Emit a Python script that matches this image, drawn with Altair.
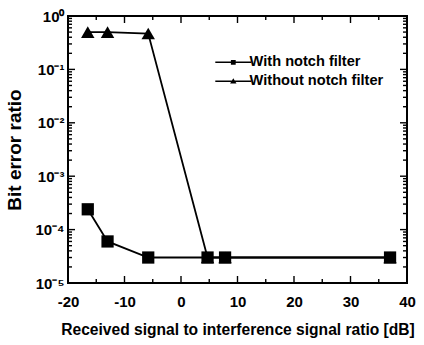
import altair as alt
import pandas as pd

# Measured bit error ratio versus signal-to-interference ratio
sir_db = [-16.5, -13.0, -5.8, 4.7, 7.8, 37.0]
ber_with_notch = [2.4e-4, 6.0e-5, 3.0e-5, 3.0e-5, 3.0e-5, 3.0e-5]
ber_without_notch = [0.5, 0.5, 0.47, 3.0e-5, 3.0e-5, 3.0e-5]
series_names = ["With notch filter", "Without notch filter"]

# Axis tick values
x_major = [-20, -10, 0, 10, 20, 30, 40]
x_minor = [-15, -5, 5, 15, 25, 35]
y_major = [1e-5, 1e-4, 1e-3, 1e-2, 1e-1, 1e0]
y_major_labels = ["10⁻⁵", "10⁻⁴", "10⁻³", "10⁻²", "10⁻¹", "10⁰"]
y_minor = [m * 10.0 ** e for e in range(-5, 0) for m in range(2, 10)]

W, H = 339, 267
FONT = "Liberation Sans"

rows = []
for name, ys in zip(series_names, [ber_with_notch, ber_without_notch]):
    for x, y in zip(sir_db, ys):
        rows.append({"sir": x, "ber": y, "series": name})
df = pd.DataFrame(rows)

x_scale = alt.Scale(domain=[-20, 40], nice=False, zero=False)
y_scale = alt.Scale(type="log", domain=[1e-5, 1], nice=False)

label_expr = "[" + ",".join(f"'{s}'" for s in y_major_labels) + "][round(log(datum.value)/LN10)+5]"

x_enc = alt.X(
    "sir:Q", scale=x_scale,
    axis=alt.Axis(values=x_major, ticks=False, domain=False, grid=False,
                  labelFont=FONT, labelFontSize=15, labelFontWeight="bold",
                  labelColor="black", labelPadding=11, labelFlush=False,
                  labelExpr="replace(datum.label, '−', '-')",
                  title="Received signal to interference signal ratio [dB]",
                  titleFont=FONT, titleFontSize=15.6, titleFontWeight="bold",
                  titleColor="black", titlePadding=13),
)
y_enc = alt.Y(
    "ber:Q", scale=y_scale,
    axis=alt.Axis(values=y_major, ticks=False, domain=False, grid=False,
                  labelFont=FONT, labelFontSize=15, labelFontWeight="bold",
                  labelColor="black", labelPadding=4, labelExpr=label_expr,
                  title="Bit error ratio",
                  titleFont=FONT, titleFontSize=19, titleFontWeight="bold",
                  titleColor="black", titlePadding=10),
)

base = alt.Chart(df)

lines = base.mark_line(color="black", strokeWidth=1.8).encode(
    x=x_enc, y=y_enc, detail="series:N"
)

points = base.mark_point(filled=True, color="black", opacity=1).encode(
    x="sir:Q", y="ber:Q",
    shape=alt.Shape("series:N", legend=None,
                    scale=alt.Scale(domain=series_names, range=["square", "triangle-up"])),
    size=alt.Size("series:N", legend=None,
                  scale=alt.Scale(domain=series_names, range=[150, 180])),
)

# Legend entries drawn as a short bar with a small marker in its middle
legend_paths = [
    "M-4.5,-0.19H4.5V0.19H-4.5ZM-0.6,-0.6H0.6V0.6H-0.6Z",
    "M-4.5,-0.19H4.5V0.19H-4.5ZM0,-0.75L0.8,0.55L-0.8,0.55Z",
]
legend_layer = base.mark_point(filled=True, color="black", opacity=0).encode(
    x="sir:Q", y="ber:Q",
    shape=alt.Shape(
        "series:N",
        scale=alt.Scale(domain=series_names, range=legend_paths),
        legend=alt.Legend(
            title=None, orient="none", legendX=158, legendY=39, padding=0,
            symbolSize=64, symbolOpacity=1, symbolFillColor="black",
            labelFont=FONT, labelFontSize=14.6, labelFontWeight="bold",
            labelColor="black", labelOffset=9, rowPadding=4,
        ),
    ),
)

# Inward-pointing ticks on all four sides of the frame
def hticks(values, length):
    d = pd.DataFrame({"v": values})
    rule = alt.Chart(d).mark_rule(color="black", strokeWidth=1.4, orient="horizontal")
    left = rule.encode(y=alt.Y("v:Q", scale=y_scale), x=alt.value(0), x2=alt.value(length))
    right = rule.encode(y=alt.Y("v:Q", scale=y_scale), x=alt.value(W), x2=alt.value(W - length))
    return left + right

def vticks(values, length):
    d = pd.DataFrame({"v": values})
    rule = alt.Chart(d).mark_rule(color="black", strokeWidth=1.4, orient="vertical")
    bottom = rule.encode(x=alt.X("v:Q", scale=x_scale), y=alt.value(H), y2=alt.value(H - length))
    top = rule.encode(x=alt.X("v:Q", scale=x_scale), y=alt.value(0), y2=alt.value(length))
    return bottom + top

ticks = hticks(y_major, 7) + hticks(y_minor, 4) + vticks(x_major, 7) + vticks(x_minor, 4)

chart = alt.layer(lines, ticks, points, legend_layer).resolve_scale(
    shape="independent", size="independent"
).resolve_legend(shape="independent", size="independent").properties(
    width=W, height=H,
    autosize=alt.AutoSizeParams(type="none"),
    padding={"left": 68, "top": 16, "right": 17, "bottom": 62},
    background="white",
).configure_view(stroke="black", strokeWidth=2)

chart.save("out.html", embed_options={"renderer": "svg", "actions": False})
